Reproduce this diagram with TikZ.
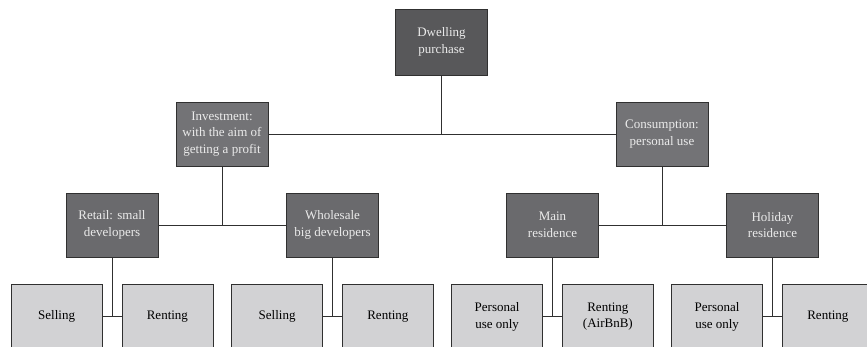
\documentclass[tikz,border=0pt]{standalone}
\usepackage{fontspec}
\setmainfont{Liberation Serif}
\usetikzlibrary{positioning}
\definecolor{topgray}{HTML}{58585A}
\definecolor{midgray}{HTML}{737376}
\definecolor{lowgray}{HTML}{6A6A6D}
\definecolor{leafgray}{HTML}{D2D2D4}
\definecolor{edgegray}{HTML}{303030}
\tikzset{
  box/.style={draw=edgegray, line width=0.8pt, minimum width=92pt, minimum height=64pt,
    align=center, inner sep=2pt, font=\fontsize{13}{16.5}\selectfont},
  darkbox/.style={box, text=white!92!black},
  leaf/.style={box, fill=leafgray, text=black, minimum width=91pt},
  link/.style={draw=edgegray, line width=0.8pt}
}

\begin{document}
\begin{tikzpicture}[x=1pt, y=-1pt]
    \useasboundingbox (0,0) rectangle (867,346);
    \clip (0,0) rectangle (867,346);

    \node[darkbox, fill=topgray, minimum height=66pt] (top) at (441.5, 42) {Dwelling\\purchase}; % root

    \node[darkbox, fill=midgray] (inv) at (222, 134) {Investment:\\with the aim of\\getting a profit};
    \node[darkbox, fill=midgray] (cons) at (662, 134) {Consumption:\\personal use};

    \node[darkbox, fill=lowgray] (ret) at (112, 225) {Retail: small\\developers};
    \node[darkbox, fill=lowgray] (whole) at (332.5, 225) {Wholesale\\big developers};
    \node[darkbox, fill=lowgray] (main) at (552.5, 225) {Main\\residence};
    \node[darkbox, fill=lowgray] (hol) at (772.5, 225) {Holiday\\residence};

    % leaves: one pair under each level-two box
    \foreach \p/\l/\r/\ltxt/\rtxt in {ret/sellA/rentA/Selling/Renting,
                                       whole/sellB/rentB/Selling/Renting,
                                       main/persA/rentC/{Personal\\use only}/{Renting\\(AirBnB)},
                                       hol/persB/rentD/{Personal\\use only}/Renting} {
        \node[leaf, below left=27pt and 9.5pt of \p.south, anchor=north east] (\l) {\ltxt};
        \node[leaf, below right=27pt and 9.5pt of \p.south, anchor=north west] (\r) {\rtxt};
        \draw[link] (\l) -- (\r);
        \draw[link] (\p) -- (\p |- \l);
    }

    \draw[link] (inv) -- (cons);
    \draw[link] (top) -- (top |- inv);
    \draw[link] (ret) -- (whole);
    \draw[link] (main) -- (hol);
    \draw[link] (inv) -- (inv |- ret);
    \draw[link] (cons) -- (cons |- main);
\end{tikzpicture}
\end{document}
